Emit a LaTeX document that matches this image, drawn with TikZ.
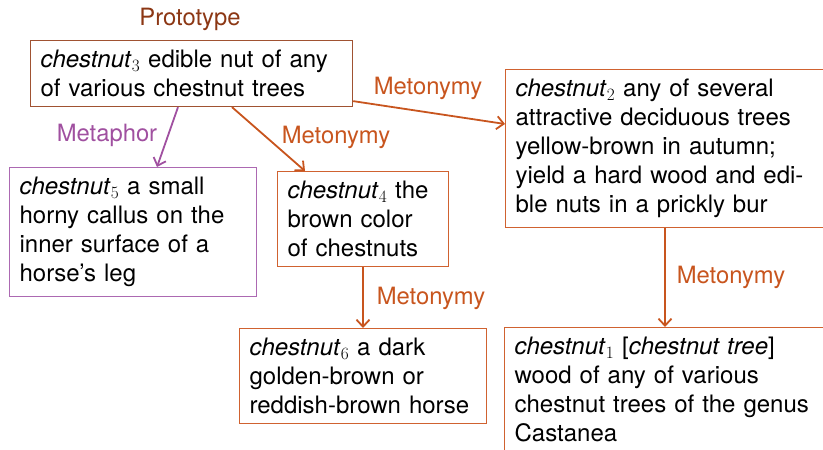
\documentclass[tikz,border=0pt]{standalone}
\usepackage{fontspec}
\setmainfont{TeX Gyre Heros}
\usetikzlibrary{arrows.meta}
\definecolor{protobrown}{RGB}{140,55,20}
\definecolor{boxbrown}{RGB}{160,82,50}
\definecolor{meto}{RGB}{200,85,30}
\definecolor{metoline}{RGB}{208,98,48}
\definecolor{meta}{RGB}{160,80,160}
\definecolor{metaline}{RGB}{172,105,178}
\begin{document}
\begin{tikzpicture}[x=1pt,y=-1pt,
  sense/.style={draw, line width=1.2pt, anchor=north west, align=left,
    inner xsep=10pt, inner ysep=9.5pt, font=\fontsize{24}{29}\selectfont},
  rel/.style={line width=1.8pt, -{Straight Barb[length=7pt,width=13pt]}},
  lab/.style={font=\fontsize{23.8}{28}\selectfont, inner sep=0pt}
]
\useasboundingbox (0,0) rectangle (823,450);
\clip (0,0) rectangle (823,450);

\node[sense, draw=boxbrown, text width=302pt] (c3) at (30,40)
  {\textit{chestnut}$_3$ edible nut of any\\ of various chestnut trees};
\node[sense, draw=metoline, text width=310pt] (c2) at (505,69)
  {\textit{chestnut}$_2$ any of several\\ attractive deciduous trees\\ yellow-brown in autumn;\\ yield a hard wood and edi-\\ ble nuts in a prickly bur};
\node[sense, draw=metaline, text width=227pt] (c5) at (9,167)
  {\textit{chestnut}$_5$ a small\\ horny callus on the\\ inner surface of a\\ horse’s leg};
\node[sense, draw=metoline, text width=151pt] (c4) at (277,171)
  {\textit{chestnut}$_4$ the\\ brown color\\ of chestnuts};
\node[sense, draw=metoline, text width=227pt] (c6) at (239,328)
  {\textit{chestnut}$_6$ a dark\\ golden-brown or\\ reddish-brown horse};
\node[sense, draw=metoline, text width=310pt] (c1) at (504,327)
  {\textit{chestnut}$_1$ [\textit{chestnut tree}]\\ wood of any of various\\ chestnut trees of the genus\\ Castanea};

\node[lab, text=protobrown] (proto) at (190,19) {Prototype};
\node[lab, text=meto] (l32) at (428,88) {Metonymy};
\node[lab, text=meta] (l35) at (107,135) {Metaphor};
\node[lab, text=meto] (l34) at (336,137) {Metonymy};
\node[lab, text=meto] (l46) at (431,298) {Metonymy};
\node[lab, text=meto] (l21) at (731,277) {Metonymy};

\draw[rel, meta] ([xshift=148pt]c3.south west) -- ([xshift=148pt]c5.north west);
\draw[rel, meto] ([xshift=202pt]c3.south west) -- ([xshift=28pt]c4.north west);
\draw[rel, meto] ([yshift=6pt]c3.south east) -- ([yshift=-55pt]c2.north west);
\draw[rel, meto] ([xshift=86pt]c4.south west) -- ([xshift=124pt]c6.north west);
\draw[rel, meto] ([xshift=160pt]c2.south west) -- ([xshift=161pt]c1.north west);
\end{tikzpicture}
\end{document}
